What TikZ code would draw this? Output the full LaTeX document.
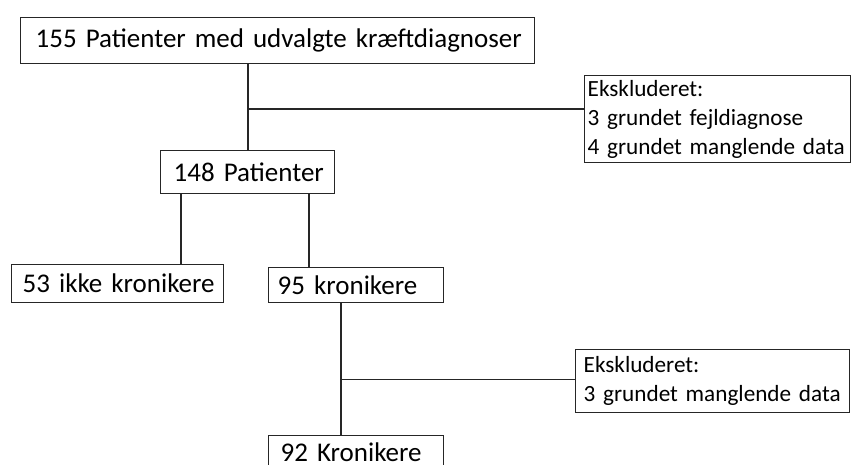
\documentclass[tikz,border=0pt]{standalone}
\usepackage{fontspec}
\setmainfont{Carlito}
\usepackage{tikz}
\usetikzlibrary{positioning,calc}
\tikzstyle{tsLine} = [
    draw=black!85,
    line width=1.4pt
]
\tikzstyle{tsBox} = [
    rectangle,
    tsLine,
    anchor=north west,
    align=left,
    inner ysep=0pt,
    text=black,
    font=\fontsize{27}{33}\selectfont
]
\tikzstyle{tsExcl} = [
    tsBox,
    font=\fontsize{23.2}{29}\selectfont
]

\begin{document}
\begin{tikzpicture}[x=1pt, y=-1pt]

        \clip (0,0) rectangle (851,464);
        \fill[white] (0,0) rectangle (851,464);

        \node[  tsBox,
                inner xsep=15pt,
                text width=484pt,
                minimum height=46pt] (pat155) at (20,17) {\mbox{155 Patienter med udvalgte kræftdiagnoser}};

        \node[  tsBox,
                inner xsep=13pt,
                text width=148pt,
                minimum height=43pt] (pat148) at (160,150) {\mbox{148 Patienter}};

        \node[  tsBox,
                inner xsep=11pt,
                text width=190pt,
                minimum height=38pt] (ikkekron) at (11,264) {\mbox{53 ikke kronikere}};

        \node[  tsBox,
                inner xsep=9pt,
                text width=157pt,
                minimum height=35pt] (kron95) at (268,267) {\mbox{95 kronikere}};

        \node[  tsBox,
                inner xsep=12pt,
                text width=151pt,
                minimum height=33pt] (kron92) at (268,435) {\mbox{92 Kronikere}};

        \node[  tsExcl,
                inner xsep=3pt,
                text width=260pt,
                minimum height=87pt] (exclA) at (584,75) {Ekskluderet:\\\mbox{3 grundet fejldiagnose}\\\mbox{4 grundet manglende data}};

        \node[  tsExcl,
                inner xsep=8pt,
                text width=258pt,
                minimum height=63pt] (exclB) at (575,349) {Ekskluderet:\\\mbox{3 grundet manglende data}};

        % flow lines
        \coordinate (jA) at ($(pat148.north west)+(88,-41)$);
        \coordinate (jB) at ($(kron95.south west)+(73,76)$);

        \draw[tsLine] (pat148.north west -| jA) -- (pat155.south -| jA);
        \draw[tsLine] (jA) -- (jA -| exclA.west);
        \draw[tsLine] ([xshift=21pt]pat148.south west) -- ([xshift=21pt]pat148.south west |- ikkekron.north);
        \draw[tsLine] ([xshift=149pt]pat148.south west) -- ([xshift=149pt]pat148.south west |- kron95.north);
        \draw[tsLine] (kron95.south -| jB) -- (kron92.north -| jB);
        \draw[tsLine] (jB) -- (jB -| exclB.west);

\end{tikzpicture}
\end{document}
